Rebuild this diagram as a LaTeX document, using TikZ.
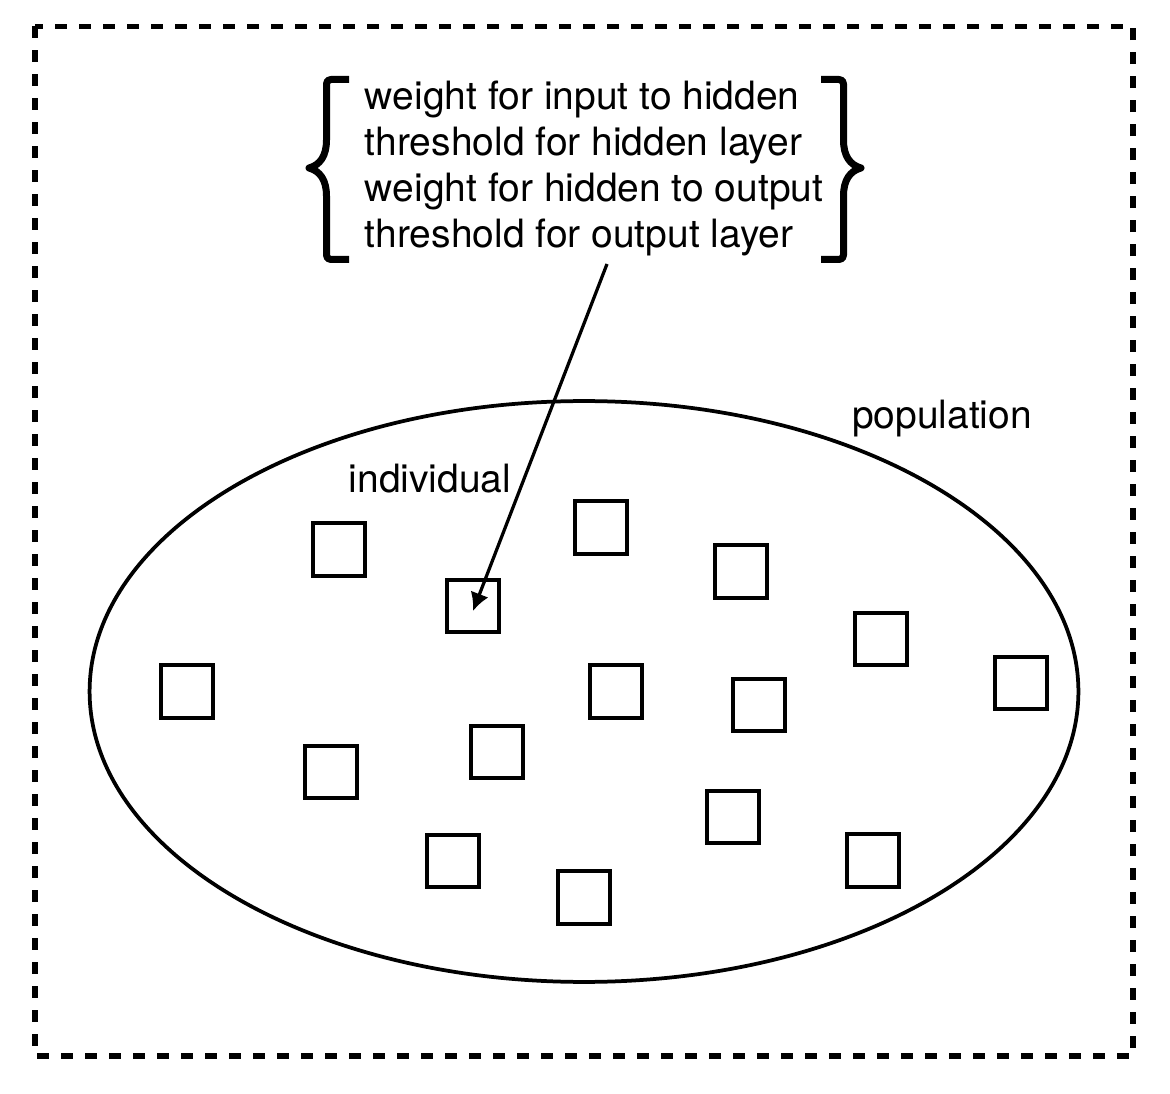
\documentclass[tikz,border=0pt]{standalone}
\usepackage{amsmath}
\usepackage{fontspec}
\setmainfont{TeX Gyre Heros}
\usetikzlibrary{arrows.meta,shapes.geometric,positioning}
\tikzstyle{indiv} = [rectangle, draw, line width=0.075cm, minimum size=1.05cm, inner sep=0pt]
\tikzstyle{pop} = [ellipse, draw, line width=0.075cm, minimum width=19.78cm,
    minimum height=11.62cm, inner sep=0pt]
\tikzstyle{tag} = [font=\fontsize{22.2}{26.2}\selectfont, inner sep=0pt]
\tikzstyle{curly} = [draw, line width=0.14cm, line join=round]
\tikzstyle{line} = [draw, line width=0.065cm, -{Latex[length=0.36cm, width=0.38cm]}]
\tikzstyle{outerbox} = [draw, line width=0.11cm, dash pattern=on 0.24cm off 0.24cm]

\begin{document}
\begin{tikzpicture}[x=0.02cm, y=-0.02cm]
    \useasboundingbox (0,0) rectangle (1170,1094);
    \path [outerbox] (35,26.5) rectangle (1133,1056);
    % Place nodes
    \node [pop] (pop) at (584,691.5) {};
    \node [tag, anchor=base] (poplabel) at (942,429) {population};
    \node [tag, anchor=base] (indlabel) at (430,493) {individual};
    \node [tag, anchor=west] (params) at (364.5,169) {\begin{tabular}{@{}l@{}}
        weight for input to hidden\\
        threshold for hidden layer\\
        weight for hidden to output\\
        threshold for output layer
        \end{tabular}};
    \node [indiv] (ind) at (473,606) {};
    \foreach \n/\x/\y in {1/339/549.5, 2/601/527.5, 3/741/571.5, 5/881/639,
        6/187/691.5, 7/616/691.5, 8/759/705, 9/1021/683, 10/497/752,
        11/331/772, 12/733/817, 13/453/861, 14/873/860.5, 15/584/897.5}
        \node [indiv] (sq\n) at (\x,\y) {};
    \coordinate (tail) at (607,264);
    % Braces round the parameter list
    \path [curly] (349,79.5) -- (331,79.5) .. controls (328,79.5) and (326.5,81) .. (326.5,84)
        -- (326.5,140) .. controls (326.5,156) and (320,165) .. (309,168)
        .. controls (320,171) and (326.5,180) .. (326.5,196) -- (326.5,255)
        .. controls (326.5,258) and (328,259.5) .. (331,259.5) -- (349,259.5);
    \path [curly] (821,79.5) -- (839,79.5) .. controls (842,79.5) and (843.5,81) .. (843.5,84)
        -- (843.5,140) .. controls (843.5,156) and (850,165) .. (861,168)
        .. controls (850,171) and (843.5,180) .. (843.5,196) -- (843.5,255)
        .. controls (843.5,258) and (842,259.5) .. (839,259.5) -- (821,259.5);
    % Draw edges
    \path [line] (tail) -- ([yshift=-0.1cm]ind.center);

\end{tikzpicture}
\end{document}
